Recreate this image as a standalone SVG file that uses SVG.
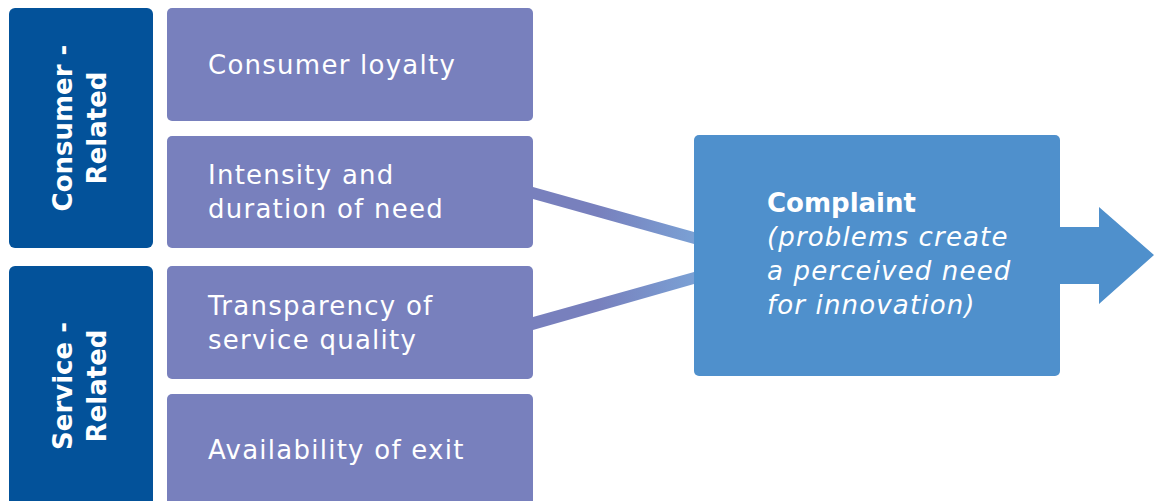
<svg xmlns="http://www.w3.org/2000/svg" width="1154" height="501" viewBox="0 0 1154 501">
<style>
.cat{fill:#03529a}
.fac{fill:#7880bd}
.cmp{fill:#4f90cc}
.t{font-family:"DejaVu Sans","Liberation Sans",sans-serif;font-size:26px;fill:#fff;letter-spacing:1.25px}
.b{font-weight:bold;letter-spacing:0}
.i{font-style:italic;letter-spacing:1.15px}
</style>
<defs>
<linearGradient id="g" x1="533" y1="0" x2="694" y2="0" gradientUnits="userSpaceOnUse">
<stop offset="0" stop-color="#7880bd"/>
<stop offset="0.4" stop-color="#7880bd"/>
<stop offset="1" stop-color="#7aa0d4"/>
</linearGradient>
</defs>
<rect width="1154" height="501" fill="#fff"/>
<g id="connectors">
<polygon points="533,187 694,232 694,244 533,199" fill="url(#g)"/>
<polygon points="533,317 694,272 694,284 533,330" fill="url(#g)"/>
<polygon points="1058,227 1099,227 1099,207 1154,255 1099,304 1099,284 1058,284" class="cmp"/>
</g>
<g id="consumer-related">
<rect x="9" y="8" width="144" height="240" rx="6" class="cat"/>
<text class="t b" transform="translate(72,128) rotate(-90)" text-anchor="middle">Consumer -</text>
<text class="t b" transform="translate(106,128) rotate(-90)" text-anchor="middle">Related</text>
</g>
<g id="service-related">
<rect x="9" y="266" width="144" height="245" rx="6" class="cat"/>
<text class="t b" transform="translate(72,386) rotate(-90)" text-anchor="middle">Service -</text>
<text class="t b" transform="translate(106,386) rotate(-90)" text-anchor="middle">Related</text>
</g>
<g id="consumer-loyalty">
<rect x="167" y="8" width="366" height="113" rx="5" class="fac"/>
<text class="t" x="208" y="74">Consumer loyalty</text>
</g>
<g id="intensity">
<rect x="167" y="136" width="366" height="112" rx="5" class="fac"/>
<text class="t" x="208" y="184">Intensity and</text>
<text class="t" x="208" y="218">duration of need</text>
</g>
<g id="transparency">
<rect x="167" y="266" width="366" height="113" rx="5" class="fac"/>
<text class="t" x="208" y="315">Transparency of</text>
<text class="t" x="208" y="349">service quality</text>
</g>
<g id="exit">
<rect x="167" y="394" width="366" height="117" rx="5" class="fac"/>
<text class="t" x="208" y="459">Availability of exit</text>
</g>
<g id="complaint">
<rect x="694" y="135" width="366" height="241" rx="5" class="cmp"/>
<text class="t b" x="767" y="212">Complaint</text>
<text class="t i" x="767" y="246">(problems create</text>
<text class="t i" x="767" y="280">a perceived need</text>
<text class="t i" x="767" y="314">for innovation)</text>
</g>
</svg>
